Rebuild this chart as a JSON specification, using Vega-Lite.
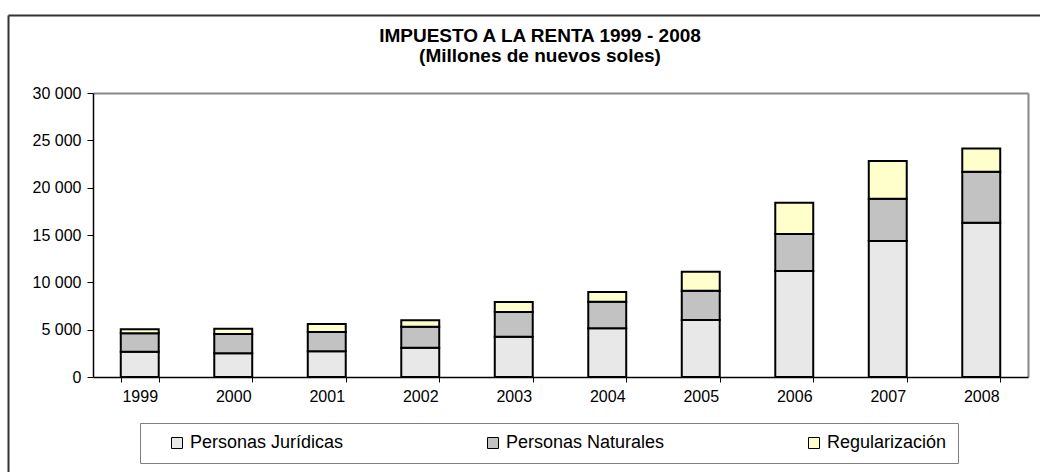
{
  "$schema": "https://vega.github.io/schema/vega-lite/v6.json",
  "autosize": "none",
  "width": 1032,
  "height": 457,
  "padding": {"left": 8, "top": 15, "right": 0, "bottom": 0},
  "background": "white",
  "title": {
    "text": ["IMPUESTO A LA RENTA 1999 - 2008", "(Millones de nuevos soles)"],
    "font": "Liberation Sans",
    "fontSize": 19,
    "fontWeight": "bold",
    "color": "black",
    "anchor": "middle",
    "frame": "group",
    "lineHeight": 20,
    "offset": -51,
    "dx": 16
  },
  "data": {
    "values": [
      {"anio": "1999", "tipo": "Personas Jurídicas", "valor": 2672},
      {"anio": "1999", "tipo": "Personas Naturales", "valor": 1943},
      {"anio": "1999", "tipo": "Regularización", "valor": 422},
      {"anio": "2000", "tipo": "Personas Jurídicas", "valor": 2500},
      {"anio": "2000", "tipo": "Personas Naturales", "valor": 2040},
      {"anio": "2000", "tipo": "Regularización", "valor": 560},
      {"anio": "2001", "tipo": "Personas Jurídicas", "valor": 2710},
      {"anio": "2001", "tipo": "Personas Naturales", "valor": 2040},
      {"anio": "2001", "tipo": "Regularización", "valor": 850},
      {"anio": "2002", "tipo": "Personas Jurídicas", "valor": 3100},
      {"anio": "2002", "tipo": "Personas Naturales", "valor": 2215},
      {"anio": "2002", "tipo": "Regularización", "valor": 670},
      {"anio": "2003", "tipo": "Personas Jurídicas", "valor": 4260},
      {"anio": "2003", "tipo": "Personas Naturales", "valor": 2605},
      {"anio": "2003", "tipo": "Regularización", "valor": 1055},
      {"anio": "2004", "tipo": "Personas Jurídicas", "valor": 5140},
      {"anio": "2004", "tipo": "Personas Naturales", "valor": 2815},
      {"anio": "2004", "tipo": "Regularización", "valor": 1020},
      {"anio": "2005", "tipo": "Personas Jurídicas", "valor": 6020},
      {"anio": "2005", "tipo": "Personas Naturales", "valor": 3095},
      {"anio": "2005", "tipo": "Regularización", "valor": 2005},
      {"anio": "2006", "tipo": "Personas Jurídicas", "valor": 11195},
      {"anio": "2006", "tipo": "Personas Naturales", "valor": 3905},
      {"anio": "2006", "tipo": "Regularización", "valor": 3310},
      {"anio": "2007", "tipo": "Personas Jurídicas", "valor": 14360},
      {"anio": "2007", "tipo": "Personas Naturales", "valor": 4470},
      {"anio": "2007", "tipo": "Regularización", "valor": 3980},
      {"anio": "2008", "tipo": "Personas Jurídicas", "valor": 16300},
      {"anio": "2008", "tipo": "Personas Naturales", "valor": 5380},
      {"anio": "2008", "tipo": "Regularización", "valor": 2470}
    ]
  },
  "layer": [
    {
      "mark": {"type": "bar", "stroke": "black", "strokeWidth": 2},
      "encoding": {
        "x": {
          "field": "anio", "type": "ordinal",
          "scale": {"range": [85, 1020], "paddingInner": 0.594, "paddingOuter": 0.297},
          "axis": {
            "orient": "bottom", "offset": -95, "title": null, "labelAngle": 0,
            "tickBand": "extent", "tickSize": 5, "tickColor": "black", "tickWidth": 1,
            "domainColor": "black", "domainWidth": 1.5,
            "labelFont": "Liberation Sans", "labelFontSize": 16, "labelColor": "black",
            "labelPadding": 6, "grid": false, "zindex": 1
          }
        },
        "y": {
          "field": "valor", "type": "quantitative", "stack": "zero",
          "scale": {"domain": [0, 30000], "range": [362, 78], "nice": false},
          "axis": {
            "orient": "left", "offset": -85, "title": null,
            "values": [0, 5000, 10000, 15000, 20000, 25000, 30000],
            "labelExpr": "replace(format(datum.value, ','), ',', ' ')",
            "tickSize": 6, "tickColor": "black", "tickWidth": 1,
            "domainColor": "black", "domainWidth": 1.5,
            "labelFont": "Liberation Sans", "labelFontSize": 16, "labelColor": "black",
            "labelPadding": 6, "grid": false, "zindex": 1
          }
        },
        "color": {
          "field": "tipo", "type": "nominal",
          "scale": {
            "domain": ["Personas Jurídicas", "Personas Naturales", "Regularización"],
            "range": ["#e8e8e8", "#c2c2c2", "#ffffcc"]
          },
          "legend": {
            "orient": "none", "legendX": 132, "legendY": 408,
            "direction": "horizontal",
            "title": " ", "titleOrient": "left", "titlePadding": 17, "titleFontSize": 10,
            "padding": 11, "strokeColor": "#808080",
            "labelFont": "Liberation Sans", "labelFontSize": 18, "labelColor": "black",
            "labelOffset": 4, "labelLimit": 400,
            "symbolType": "square", "symbolSize": 121,
            "symbolStrokeColor": "black", "symbolStrokeWidth": 1,
            "columnPadding": 140
          }
        },
        "order": {"field": "tipo", "sort": "ascending"}
      }
    },
    {
      "mark": {"type": "bar", "opacity": 0},
      "encoding": {
        "x": {
          "field": "anio", "type": "ordinal",
          "scale": {"range": [85, 1020], "paddingInner": 0.594, "paddingOuter": 0.297},
          "axis": {
            "orient": "top", "offset": -78, "title": null,
            "ticks": false, "labels": false, "grid": false,
            "domainColor": "#888888", "domainWidth": 2
          }
        },
        "y": {
          "field": "valor", "type": "quantitative", "stack": null,
          "scale": {"domain": [0, 30000], "range": [362, 78], "nice": false},
          "axis": {
            "orient": "right", "offset": -12, "title": null,
            "ticks": false, "labels": false, "grid": false,
            "domainColor": "#888888", "domainWidth": 2
          }
        }
      }
    },
    {
      "mark": {"type": "bar", "opacity": 0},
      "encoding": {
        "x": {
          "field": "anio", "type": "ordinal",
          "axis": {
            "orient": "top", "offset": 0, "title": null,
            "ticks": false, "labels": false, "grid": false,
            "domainColor": "#333333", "domainWidth": 2
          }
        },
        "y": {
          "field": "valor", "type": "quantitative", "stack": null,
          "scale": {"domain": [0, 30000], "nice": false},
          "axis": {
            "orient": "left", "offset": 0, "title": null,
            "ticks": false, "labels": false, "grid": false,
            "domainColor": "#333333", "domainWidth": 2
          }
        }
      }
    }
  ],
  "resolve": {
    "scale": {"x": "independent", "y": "independent"},
    "axis": {"x": "independent", "y": "independent"}
  },
  "config": {
    "view": {"stroke": null},
    "font": "Liberation Sans"
  }
}
